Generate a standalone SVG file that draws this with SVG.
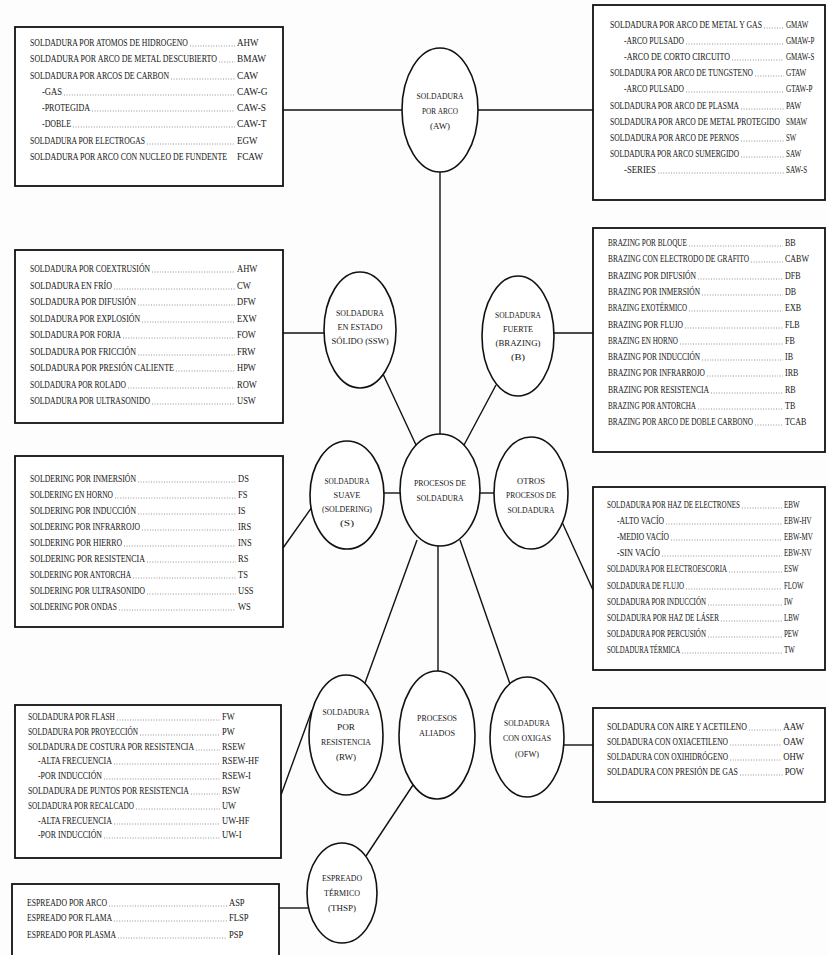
<svg xmlns="http://www.w3.org/2000/svg" width="828" height="955" viewBox="0 0 828 955">
<style>
.t{font-family:"Liberation Serif","Times New Roman",serif;font-size:10px;fill:#161616}
.e{font-family:"Liberation Serif","Times New Roman",serif;font-size:9px;fill:#161616;text-anchor:middle}
.box{fill:#fff;stroke:#111;stroke-width:1.8}
.ell{fill:#fff;stroke:#111;stroke-width:1.6}
.ln{stroke:#111;stroke-width:1.4;fill:none}
.ld{stroke:#777;stroke-width:0.8;stroke-dasharray:1 1.6}
.r{text-anchor:end}
</style>
<rect x="0" y="0" width="828" height="955" fill="#fdfdfd"/>

<g id="connectors">
<line class="ln" x1="283" y1="110" x2="402" y2="110"/>
<line class="ln" x1="478" y1="110" x2="593" y2="110"/>
<line class="ln" x1="440" y1="172" x2="440" y2="434"/>
<line class="ln" x1="283" y1="333" x2="324" y2="333"/>
<line class="ln" x1="554" y1="333" x2="593" y2="333"/>
<line class="ln" x1="383" y1="374" x2="416" y2="445"/>
<line class="ln" x1="496" y1="385" x2="464" y2="445"/>
<line class="ln" x1="384" y1="493" x2="400" y2="493"/>
<line class="ln" x1="480" y1="493" x2="494" y2="493"/>
<line class="ln" x1="283" y1="548" x2="312" y2="507"/>
<line class="ln" x1="562" y1="522" x2="593" y2="590"/>
<line class="ln" x1="438" y1="546" x2="438" y2="671"/>
<line class="ln" x1="417" y1="540" x2="365" y2="683"/>
<line class="ln" x1="460" y1="540" x2="510" y2="684"/>
<line class="ln" x1="281" y1="795" x2="312" y2="710"/>
<line class="ln" x1="564" y1="745" x2="593" y2="745"/>
<line class="ln" x1="413" y1="785" x2="366" y2="856"/>
<line class="ln" x1="279" y1="908" x2="308" y2="908"/>
</g>

<g id="node-aw">
<ellipse class="ell" cx="440" cy="110" rx="38" ry="62"/>
<text class="e" x="440" y="99" textLength="47" lengthAdjust="spacingAndGlyphs">SOLDADURA</text>
<text class="e" x="440" y="114" textLength="36" lengthAdjust="spacingAndGlyphs">POR ARCO</text>
<text class="e" x="440" y="129" textLength="20" lengthAdjust="spacingAndGlyphs">(AW)</text>
</g>
<g id="node-ssw">
<ellipse class="ell" cx="360" cy="330" rx="36" ry="58"/>
<text class="e" x="360" y="316" textLength="48" lengthAdjust="spacingAndGlyphs">SOLDADURA</text>
<text class="e" x="360" y="330" textLength="45" lengthAdjust="spacingAndGlyphs">EN ESTADO</text>
<text class="e" x="360" y="344" textLength="57" lengthAdjust="spacingAndGlyphs">SÓLIDO (SSW)</text>
</g>
<g id="node-brazing">
<ellipse class="ell" cx="518" cy="336" rx="36" ry="60"/>
<text class="e" x="518" y="318" textLength="46" lengthAdjust="spacingAndGlyphs">SOLDADURA</text>
<text class="e" x="518" y="332" textLength="30" lengthAdjust="spacingAndGlyphs">FUERTE</text>
<text class="e" x="518" y="346" textLength="45" lengthAdjust="spacingAndGlyphs">(BRAZING)</text>
<text class="e" x="518" y="360" textLength="14" lengthAdjust="spacingAndGlyphs">(B)</text>
</g>
<g id="node-procesos">
<ellipse class="ell" cx="440" cy="490" rx="40" ry="56"/>
<text class="e" x="440" y="486" textLength="52" lengthAdjust="spacingAndGlyphs">PROCESOS DE</text>
<text class="e" x="440" y="501" textLength="47" lengthAdjust="spacingAndGlyphs">SOLDADURA</text>
</g>
<g id="node-suave">
<ellipse class="ell" cx="347" cy="495" rx="37" ry="54"/>
<text class="e" x="347" y="484" textLength="45" lengthAdjust="spacingAndGlyphs">SOLDADURA</text>
<text class="e" x="347" y="498" textLength="27" lengthAdjust="spacingAndGlyphs">SUAVE</text>
<text class="e" x="347" y="512" textLength="50" lengthAdjust="spacingAndGlyphs">(SOLDERING)</text>
<text class="e" x="347" y="526" textLength="14" lengthAdjust="spacingAndGlyphs">(S)</text>
</g>
<g id="node-otros">
<ellipse class="ell" cx="531" cy="493" rx="37" ry="56"/>
<text class="e" x="531" y="484" textLength="28" lengthAdjust="spacingAndGlyphs">OTROS</text>
<text class="e" x="531" y="498" textLength="50" lengthAdjust="spacingAndGlyphs">PROCESOS DE</text>
<text class="e" x="531" y="513" textLength="47" lengthAdjust="spacingAndGlyphs">SOLDADURA</text>
</g>
<g id="node-resistencia">
<ellipse class="ell" cx="346" cy="735" rx="37" ry="60"/>
<text class="e" x="346" y="715" textLength="47" lengthAdjust="spacingAndGlyphs">SOLDADURA</text>
<text class="e" x="346" y="730" textLength="18" lengthAdjust="spacingAndGlyphs">POR</text>
<text class="e" x="346" y="745" textLength="50" lengthAdjust="spacingAndGlyphs">RESISTENCIA</text>
<text class="e" x="346" y="760" textLength="20" lengthAdjust="spacingAndGlyphs">(RW)</text>
</g>
<g id="node-aliados">
<ellipse class="ell" cx="437" cy="735" rx="38" ry="64"/>
<text class="e" x="437" y="721" textLength="40" lengthAdjust="spacingAndGlyphs">PROCESOS</text>
<text class="e" x="437" y="736" textLength="36" lengthAdjust="spacingAndGlyphs">ALIADOS</text>
</g>
<g id="node-oxigas">
<ellipse class="ell" cx="527" cy="737" rx="37" ry="60"/>
<text class="e" x="527" y="726" textLength="46" lengthAdjust="spacingAndGlyphs">SOLDADURA</text>
<text class="e" x="527" y="741" textLength="48" lengthAdjust="spacingAndGlyphs">CON OXIGAS</text>
<text class="e" x="527" y="757" textLength="24" lengthAdjust="spacingAndGlyphs">(OFW)</text>
</g>
<g id="node-espreado">
<ellipse class="ell" cx="342" cy="893" rx="35" ry="50"/>
<text class="e" x="342" y="881" textLength="40" lengthAdjust="spacingAndGlyphs">ESPREADO</text>
<text class="e" x="342" y="896" textLength="36" lengthAdjust="spacingAndGlyphs">TÉRMICO</text>
<text class="e" x="342" y="911" textLength="28" lengthAdjust="spacingAndGlyphs">(THSP)</text>
</g>

<g id="box-aw-left">
<rect class="box" x="15" y="27" width="268" height="159"/>
<text class="t" transform="translate(30,46) scale(.72,1)" textLength="219.4" lengthAdjust="spacingAndGlyphs">SOLDADURA POR ATOMOS DE HIDROGENO</text><line class="ld" x1="190" y1="46" x2="235" y2="46"/><text class="t" transform="translate(237,46) scale(.8,1)" textLength="26.9" lengthAdjust="spacingAndGlyphs">AHW</text>
<text class="t" transform="translate(30,62) scale(.72,1)" textLength="259.7" lengthAdjust="spacingAndGlyphs">SOLDADURA POR ARCO DE METAL DESCUBIERTO</text><line class="ld" x1="219" y1="62" x2="235" y2="62"/><text class="t" transform="translate(237,62) scale(.8,1)" textLength="36.3" lengthAdjust="spacingAndGlyphs">BMAW</text>
<text class="t" transform="translate(30,79) scale(.72,1)" textLength="193.1" lengthAdjust="spacingAndGlyphs">SOLDADURA POR ARCOS DE CARBON</text><line class="ld" x1="171" y1="79" x2="235" y2="79"/><text class="t" transform="translate(237,79) scale(.8,1)" textLength="26.3" lengthAdjust="spacingAndGlyphs">CAW</text>
<text class="t" transform="translate(42,95) scale(.72,1)" textLength="27.8" lengthAdjust="spacingAndGlyphs">-GAS</text><line class="ld" x1="64" y1="95" x2="235" y2="95"/><text class="t" transform="translate(237,95) scale(.8,1)" textLength="38.1" lengthAdjust="spacingAndGlyphs">CAW-G</text>
<text class="t" transform="translate(42,111) scale(.72,1)" textLength="66.7" lengthAdjust="spacingAndGlyphs">-PROTEGIDA</text><line class="ld" x1="92" y1="111" x2="235" y2="111"/><text class="t" transform="translate(237,111) scale(.8,1)" textLength="36.3" lengthAdjust="spacingAndGlyphs">CAW-S</text>
<text class="t" transform="translate(42,127) scale(.72,1)" textLength="40.3" lengthAdjust="spacingAndGlyphs">-DOBLE</text><line class="ld" x1="73" y1="127" x2="235" y2="127"/><text class="t" transform="translate(237,127) scale(.8,1)" textLength="36.9" lengthAdjust="spacingAndGlyphs">CAW-T</text>
<text class="t" transform="translate(30,144) scale(.72,1)" textLength="159.7" lengthAdjust="spacingAndGlyphs">SOLDADURA POR ELECTROGAS</text><line class="ld" x1="147" y1="144" x2="235" y2="144"/><text class="t" transform="translate(237,144) scale(.8,1)" textLength="25.6" lengthAdjust="spacingAndGlyphs">EGW</text>
<text class="t" transform="translate(30,160) scale(.72,1)" textLength="273.6" lengthAdjust="spacingAndGlyphs">SOLDADURA POR ARCO CON NUCLEO DE FUNDENTE</text><text class="t" transform="translate(237,160) scale(.8,1)" textLength="32.5" lengthAdjust="spacingAndGlyphs">FCAW</text>
</g>

<g id="box-aw-right">
<rect class="box" x="593" y="5" width="232" height="195"/>
<text class="t" transform="translate(610,28) scale(.72,1)" textLength="211.1" lengthAdjust="spacingAndGlyphs">SOLDADURA POR ARCO DE METAL Y GAS</text><line class="ld" x1="764" y1="28" x2="784" y2="28"/><text class="t" transform="translate(786,28) scale(.8,1)" textLength="27.9" lengthAdjust="spacingAndGlyphs">GMAW</text>
<text class="t" transform="translate(624,44) scale(.72,1)" textLength="83.3" lengthAdjust="spacingAndGlyphs">-ARCO PULSADO</text><line class="ld" x1="686" y1="44" x2="784" y2="44"/><text class="t" transform="translate(786,44) scale(.8,1)" textLength="35.4" lengthAdjust="spacingAndGlyphs">GMAW-P</text>
<text class="t" transform="translate(624,60) scale(.72,1)" textLength="147.2" lengthAdjust="spacingAndGlyphs">-ARCO DE CORTO CIRCUITO</text><line class="ld" x1="732" y1="60" x2="784" y2="60"/><text class="t" transform="translate(786,60) scale(.8,1)" textLength="35.4" lengthAdjust="spacingAndGlyphs">GMAW-S</text>
<text class="t" transform="translate(610,76) scale(.72,1)" textLength="198.6" lengthAdjust="spacingAndGlyphs">SOLDADURA POR ARCO DE TUNGSTENO</text><line class="ld" x1="755" y1="76" x2="784" y2="76"/><text class="t" transform="translate(786,76) scale(.8,1)" textLength="25.5" lengthAdjust="spacingAndGlyphs">GTAW</text>
<text class="t" transform="translate(624,92) scale(.72,1)" textLength="83.3" lengthAdjust="spacingAndGlyphs">-ARCO PULSADO</text><line class="ld" x1="686" y1="92" x2="784" y2="92"/><text class="t" transform="translate(786,92) scale(.8,1)" textLength="33" lengthAdjust="spacingAndGlyphs">GTAW-P</text>
<text class="t" transform="translate(610,109) scale(.72,1)" textLength="179.2" lengthAdjust="spacingAndGlyphs">SOLDADURA POR ARCO DE PLASMA</text><line class="ld" x1="741" y1="109" x2="784" y2="109"/><text class="t" transform="translate(786,109) scale(.8,1)" textLength="18.9" lengthAdjust="spacingAndGlyphs">PAW</text>
<text class="t" transform="translate(610,125) scale(.72,1)" textLength="236.1" lengthAdjust="spacingAndGlyphs">SOLDADURA POR ARCO DE METAL PROTEGIDO</text><text class="t" transform="translate(786,125) scale(.8,1)" textLength="26.5" lengthAdjust="spacingAndGlyphs">SMAW</text>
<text class="t" transform="translate(610,141) scale(.72,1)" textLength="179.2" lengthAdjust="spacingAndGlyphs">SOLDADURA POR ARCO DE PERNOS</text><line class="ld" x1="741" y1="141" x2="784" y2="141"/><text class="t" transform="translate(786,141) scale(.8,1)" textLength="12.8" lengthAdjust="spacingAndGlyphs">SW</text>
<text class="t" transform="translate(610,157) scale(.72,1)" textLength="179.2" lengthAdjust="spacingAndGlyphs">SOLDADURA POR ARCO SUMERGIDO</text><line class="ld" x1="741" y1="157" x2="784" y2="157"/><text class="t" transform="translate(786,157) scale(.8,1)" textLength="18.9" lengthAdjust="spacingAndGlyphs">SAW</text>
<text class="t" transform="translate(624,173) scale(.72,1)" textLength="44.4" lengthAdjust="spacingAndGlyphs">-SERIES</text><line class="ld" x1="658" y1="173" x2="784" y2="173"/><text class="t" transform="translate(786,173) scale(.8,1)" textLength="26.5" lengthAdjust="spacingAndGlyphs">SAW-S</text>
</g>

<g id="box-ssw">
<rect class="box" x="15" y="250" width="268" height="173"/>
<text class="t" transform="translate(30,272) scale(.72,1)" textLength="166.7" lengthAdjust="spacingAndGlyphs">SOLDADURA POR COEXTRUSIÓN</text><line class="ld" x1="152" y1="272" x2="235" y2="272"/><text class="t" transform="translate(237,272) scale(.8,1)" textLength="25.4" lengthAdjust="spacingAndGlyphs">AHW</text>
<text class="t" transform="translate(30,289) scale(.72,1)" textLength="113.9" lengthAdjust="spacingAndGlyphs">SOLDADURA EN FRÍO</text><line class="ld" x1="114" y1="289" x2="235" y2="289"/><text class="t" transform="translate(237,289) scale(.8,1)" textLength="17.1" lengthAdjust="spacingAndGlyphs">CW</text>
<text class="t" transform="translate(30,305) scale(.72,1)" textLength="147.2" lengthAdjust="spacingAndGlyphs">SOLDADURA POR DIFUSIÓN</text><line class="ld" x1="138" y1="305" x2="235" y2="305"/><text class="t" transform="translate(237,305) scale(.8,1)" textLength="23.6" lengthAdjust="spacingAndGlyphs">DFW</text>
<text class="t" transform="translate(30,322) scale(.72,1)" textLength="152.8" lengthAdjust="spacingAndGlyphs">SOLDADURA POR EXPLOSIÓN</text><line class="ld" x1="142" y1="322" x2="235" y2="322"/><text class="t" transform="translate(237,322) scale(.8,1)" textLength="24.3" lengthAdjust="spacingAndGlyphs">EXW</text>
<text class="t" transform="translate(30,338) scale(.72,1)" textLength="126.4" lengthAdjust="spacingAndGlyphs">SOLDADURA POR FORJA</text><line class="ld" x1="123" y1="338" x2="235" y2="338"/><text class="t" transform="translate(237,338) scale(.8,1)" textLength="23.6" lengthAdjust="spacingAndGlyphs">FOW</text>
<text class="t" transform="translate(30,355) scale(.72,1)" textLength="147.2" lengthAdjust="spacingAndGlyphs">SOLDADURA POR FRICCIÓN</text><line class="ld" x1="138" y1="355" x2="235" y2="355"/><text class="t" transform="translate(237,355) scale(.8,1)" textLength="23" lengthAdjust="spacingAndGlyphs">FRW</text>
<text class="t" transform="translate(30,371) scale(.72,1)" textLength="200" lengthAdjust="spacingAndGlyphs">SOLDADURA POR PRESIÓN CALIENTE</text><line class="ld" x1="176" y1="371" x2="235" y2="371"/><text class="t" transform="translate(237,371) scale(.8,1)" textLength="23.6" lengthAdjust="spacingAndGlyphs">HPW</text>
<text class="t" transform="translate(30,388) scale(.72,1)" textLength="133.3" lengthAdjust="spacingAndGlyphs">SOLDADURA POR ROLADO</text><line class="ld" x1="128" y1="388" x2="235" y2="388"/><text class="t" transform="translate(237,388) scale(.8,1)" textLength="24.8" lengthAdjust="spacingAndGlyphs">ROW</text>
<text class="t" transform="translate(30,404) scale(.72,1)" textLength="166.7" lengthAdjust="spacingAndGlyphs">SOLDADURA POR ULTRASONIDO</text><line class="ld" x1="152" y1="404" x2="235" y2="404"/><text class="t" transform="translate(237,404) scale(.8,1)" textLength="23.6" lengthAdjust="spacingAndGlyphs">USW</text>
</g>

<g id="box-brazing">
<rect class="box" x="593" y="228" width="232" height="224"/>
<text class="t" transform="translate(608,246) scale(.72,1)" textLength="109.7" lengthAdjust="spacingAndGlyphs">BRAZING POR BLOQUE</text><line class="ld" x1="689" y1="246" x2="783" y2="246"/><text class="t" transform="translate(785,246) scale(.8,1)" textLength="13.4" lengthAdjust="spacingAndGlyphs">BB</text>
<text class="t" transform="translate(608,262) scale(.72,1)" textLength="195.8" lengthAdjust="spacingAndGlyphs">BRAZING CON ELECTRODO DE GRAFITO</text><line class="ld" x1="751" y1="262" x2="783" y2="262"/><text class="t" transform="translate(785,262) scale(.8,1)" textLength="30" lengthAdjust="spacingAndGlyphs">CABW</text>
<text class="t" transform="translate(608,279) scale(.72,1)" textLength="122.2" lengthAdjust="spacingAndGlyphs">BRAZING POR DIFUSIÓN</text><line class="ld" x1="698" y1="279" x2="783" y2="279"/><text class="t" transform="translate(785,279) scale(.8,1)" textLength="19.5" lengthAdjust="spacingAndGlyphs">DFB</text>
<text class="t" transform="translate(608,295) scale(.72,1)" textLength="127.8" lengthAdjust="spacingAndGlyphs">BRAZING POR INMERSIÓN</text><line class="ld" x1="702" y1="295" x2="783" y2="295"/><text class="t" transform="translate(785,295) scale(.8,1)" textLength="13.9" lengthAdjust="spacingAndGlyphs">DB</text>
<text class="t" transform="translate(608,311) scale(.72,1)" textLength="109.7" lengthAdjust="spacingAndGlyphs">BRAZING EXOTÉRMICO</text><line class="ld" x1="689" y1="311" x2="783" y2="311"/><text class="t" transform="translate(785,311) scale(.8,1)" textLength="20" lengthAdjust="spacingAndGlyphs">EXB</text>
<text class="t" transform="translate(608,328) scale(.72,1)" textLength="104.2" lengthAdjust="spacingAndGlyphs">BRAZING POR FLUJO</text><line class="ld" x1="685" y1="328" x2="783" y2="328"/><text class="t" transform="translate(785,328) scale(.8,1)" textLength="18.4" lengthAdjust="spacingAndGlyphs">FLB</text>
<text class="t" transform="translate(608,344) scale(.72,1)" textLength="97.2" lengthAdjust="spacingAndGlyphs">BRAZING EN HORNO</text><line class="ld" x1="680" y1="344" x2="783" y2="344"/><text class="t" transform="translate(785,344) scale(.8,1)" textLength="12.3" lengthAdjust="spacingAndGlyphs">FB</text>
<text class="t" transform="translate(608,360) scale(.72,1)" textLength="127.8" lengthAdjust="spacingAndGlyphs">BRAZING POR INDUCCIÓN</text><line class="ld" x1="702" y1="360" x2="783" y2="360"/><text class="t" transform="translate(785,360) scale(.8,1)" textLength="10" lengthAdjust="spacingAndGlyphs">IB</text>
<text class="t" transform="translate(608,376) scale(.72,1)" textLength="134.7" lengthAdjust="spacingAndGlyphs">BRAZING POR INFRARROJO</text><line class="ld" x1="707" y1="376" x2="783" y2="376"/><text class="t" transform="translate(785,376) scale(.8,1)" textLength="16.6" lengthAdjust="spacingAndGlyphs">IRB</text>
<text class="t" transform="translate(608,393) scale(.72,1)" textLength="140.3" lengthAdjust="spacingAndGlyphs">BRAZING POR RESISTENCIA</text><line class="ld" x1="711" y1="393" x2="783" y2="393"/><text class="t" transform="translate(785,393) scale(.8,1)" textLength="13.4" lengthAdjust="spacingAndGlyphs">RB</text>
<text class="t" transform="translate(608,409) scale(.72,1)" textLength="122.2" lengthAdjust="spacingAndGlyphs">BRAZING POR ANTORCHA</text><line class="ld" x1="698" y1="409" x2="783" y2="409"/><text class="t" transform="translate(785,409) scale(.8,1)" textLength="12.8" lengthAdjust="spacingAndGlyphs">TB</text>
<text class="t" transform="translate(608,425) scale(.72,1)" textLength="201.4" lengthAdjust="spacingAndGlyphs">BRAZING POR ARCO DE DOBLE CARBONO</text><line class="ld" x1="755" y1="425" x2="783" y2="425"/><text class="t" transform="translate(785,425) scale(.8,1)" textLength="26.6" lengthAdjust="spacingAndGlyphs">TCAB</text>
</g>

<g id="box-soldering">
<rect class="box" x="15" y="456" width="268" height="171"/>
<text class="t" transform="translate(30,482) scale(.72,1)" textLength="147.2" lengthAdjust="spacingAndGlyphs">SOLDERING POR INMERSIÓN</text><line class="ld" x1="138" y1="482" x2="236" y2="482"/><text class="t" transform="translate(238,482) scale(.8,1)" textLength="13.6" lengthAdjust="spacingAndGlyphs">DS</text>
<text class="t" transform="translate(30,498) scale(.72,1)" textLength="115.3" lengthAdjust="spacingAndGlyphs">SOLDERING EN HORNO</text><line class="ld" x1="115" y1="498" x2="236" y2="498"/><text class="t" transform="translate(238,498) scale(.8,1)" textLength="11.9" lengthAdjust="spacingAndGlyphs">FS</text>
<text class="t" transform="translate(30,514) scale(.72,1)" textLength="147.2" lengthAdjust="spacingAndGlyphs">SOLDERING POR INDUCCIÓN</text><line class="ld" x1="138" y1="514" x2="236" y2="514"/><text class="t" transform="translate(238,514) scale(.8,1)" textLength="9.5" lengthAdjust="spacingAndGlyphs">IS</text>
<text class="t" transform="translate(30,530) scale(.72,1)" textLength="152.8" lengthAdjust="spacingAndGlyphs">SOLDERING POR INFRARROJO</text><line class="ld" x1="142" y1="530" x2="236" y2="530"/><text class="t" transform="translate(238,530) scale(.8,1)" textLength="16.5" lengthAdjust="spacingAndGlyphs">IRS</text>
<text class="t" transform="translate(30,546) scale(.72,1)" textLength="127.8" lengthAdjust="spacingAndGlyphs">SOLDERING POR HIERRO</text><line class="ld" x1="124" y1="546" x2="236" y2="546"/><text class="t" transform="translate(238,546) scale(.8,1)" textLength="17.1" lengthAdjust="spacingAndGlyphs">INS</text>
<text class="t" transform="translate(30,562) scale(.72,1)" textLength="159.7" lengthAdjust="spacingAndGlyphs">SOLDERING POR RESISTENCIA</text><line class="ld" x1="147" y1="562" x2="236" y2="562"/><text class="t" transform="translate(238,562) scale(.8,1)" textLength="13" lengthAdjust="spacingAndGlyphs">RS</text>
<text class="t" transform="translate(30,578) scale(.72,1)" textLength="140.3" lengthAdjust="spacingAndGlyphs">SOLDERING POR ANTORCHA</text><line class="ld" x1="133" y1="578" x2="236" y2="578"/><text class="t" transform="translate(238,578) scale(.8,1)" textLength="12.4" lengthAdjust="spacingAndGlyphs">TS</text>
<text class="t" transform="translate(30,594) scale(.72,1)" textLength="159.7" lengthAdjust="spacingAndGlyphs">SOLDERING POR ULTRASONIDO</text><line class="ld" x1="147" y1="594" x2="236" y2="594"/><text class="t" transform="translate(238,594) scale(.8,1)" textLength="19.5" lengthAdjust="spacingAndGlyphs">USS</text>
<text class="t" transform="translate(30,610) scale(.72,1)" textLength="120.8" lengthAdjust="spacingAndGlyphs">SOLDERING POR ONDAS</text><line class="ld" x1="119" y1="610" x2="236" y2="610"/><text class="t" transform="translate(238,610) scale(.8,1)" textLength="16" lengthAdjust="spacingAndGlyphs">WS</text>
</g>

<g id="box-otros">
<rect class="box" x="593" y="487" width="232" height="183"/>
<text class="t" transform="translate(607,508) scale(.72,1)" textLength="184.7" lengthAdjust="spacingAndGlyphs">SOLDADURA POR HAZ DE ELECTRONES</text><line class="ld" x1="742" y1="508" x2="782" y2="508"/><text class="t" transform="translate(784,508) scale(.8,1)" textLength="19.6" lengthAdjust="spacingAndGlyphs">EBW</text>
<text class="t" transform="translate(617,524) scale(.72,1)" textLength="65.3" lengthAdjust="spacingAndGlyphs">-ALTO VACÍO</text><line class="ld" x1="666" y1="524" x2="782" y2="524"/><text class="t" transform="translate(784,524) scale(.8,1)" textLength="34.5" lengthAdjust="spacingAndGlyphs">EBW-HV</text>
<text class="t" transform="translate(617,540) scale(.72,1)" textLength="72.2" lengthAdjust="spacingAndGlyphs">-MEDIO VACÍO</text><line class="ld" x1="671" y1="540" x2="782" y2="540"/><text class="t" transform="translate(784,540) scale(.8,1)" textLength="35.9" lengthAdjust="spacingAndGlyphs">EBW-MV</text>
<text class="t" transform="translate(617,556) scale(.72,1)" textLength="59.7" lengthAdjust="spacingAndGlyphs">-SIN VACÍO</text><line class="ld" x1="662" y1="556" x2="782" y2="556"/><text class="t" transform="translate(784,556) scale(.8,1)" textLength="34.5" lengthAdjust="spacingAndGlyphs">EBW-NV</text>
<text class="t" transform="translate(607,572) scale(.72,1)" textLength="166.7" lengthAdjust="spacingAndGlyphs">SOLDADURA POR ELECTROESCORIA</text><line class="ld" x1="729" y1="572" x2="782" y2="572"/><text class="t" transform="translate(784,572) scale(.8,1)" textLength="18.3" lengthAdjust="spacingAndGlyphs">ESW</text>
<text class="t" transform="translate(607,589) scale(.72,1)" textLength="106.9" lengthAdjust="spacingAndGlyphs">SOLDADURA DE FLUJO</text><line class="ld" x1="686" y1="589" x2="782" y2="589"/><text class="t" transform="translate(784,589) scale(.8,1)" textLength="24.4" lengthAdjust="spacingAndGlyphs">FLOW</text>
<text class="t" transform="translate(607,605) scale(.72,1)" textLength="137.5" lengthAdjust="spacingAndGlyphs">SOLDADURA POR INDUCCIÓN</text><line class="ld" x1="708" y1="605" x2="782" y2="605"/><text class="t" transform="translate(784,605) scale(.8,1)" textLength="11" lengthAdjust="spacingAndGlyphs">IW</text>
<text class="t" transform="translate(607,621) scale(.72,1)" textLength="155.6" lengthAdjust="spacingAndGlyphs">SOLDADURA POR HAZ DE LÁSER</text><line class="ld" x1="721" y1="621" x2="782" y2="621"/><text class="t" transform="translate(784,621) scale(.8,1)" textLength="19.1" lengthAdjust="spacingAndGlyphs">LBW</text>
<text class="t" transform="translate(607,637) scale(.72,1)" textLength="137.5" lengthAdjust="spacingAndGlyphs">SOLDADURA POR PERCUSIÓN</text><line class="ld" x1="708" y1="637" x2="782" y2="637"/><text class="t" transform="translate(784,637) scale(.8,1)" textLength="18.3" lengthAdjust="spacingAndGlyphs">PEW</text>
<text class="t" transform="translate(607,653) scale(.72,1)" textLength="101.4" lengthAdjust="spacingAndGlyphs">SOLDADURA TÉRMICA</text><line class="ld" x1="682" y1="653" x2="782" y2="653"/><text class="t" transform="translate(784,653) scale(.8,1)" textLength="13.4" lengthAdjust="spacingAndGlyphs">TW</text>
</g>

<g id="box-resistencia">
<rect class="box" x="15" y="705" width="266" height="153"/>
<text class="t" transform="translate(28,720) scale(.72,1)" textLength="120.8" lengthAdjust="spacingAndGlyphs">SOLDADURA POR FLASH</text><line class="ld" x1="117" y1="720" x2="220" y2="720"/><text class="t" transform="translate(222,720) scale(.8,1)" textLength="15.8" lengthAdjust="spacingAndGlyphs">FW</text>
<text class="t" transform="translate(28,735) scale(.72,1)" textLength="152.8" lengthAdjust="spacingAndGlyphs">SOLDADURA POR PROYECCIÓN</text><line class="ld" x1="140" y1="735" x2="220" y2="735"/><text class="t" transform="translate(222,735) scale(.8,1)" textLength="15.8" lengthAdjust="spacingAndGlyphs">PW</text>
<text class="t" transform="translate(28,750) scale(.72,1)" textLength="230.6" lengthAdjust="spacingAndGlyphs">SOLDADURA DE COSTURA POR RESISTENCIA</text><line class="ld" x1="196" y1="750" x2="220" y2="750"/><text class="t" transform="translate(222,750) scale(.8,1)" textLength="29.1" lengthAdjust="spacingAndGlyphs">RSEW</text>
<text class="t" transform="translate(38,764) scale(.72,1)" textLength="102.8" lengthAdjust="spacingAndGlyphs">-ALTA FRECUENCIA</text><line class="ld" x1="114" y1="764" x2="220" y2="764"/><text class="t" transform="translate(222,764) scale(.8,1)" textLength="46.1" lengthAdjust="spacingAndGlyphs">RSEW-HF</text>
<text class="t" transform="translate(38,779) scale(.72,1)" textLength="88.9" lengthAdjust="spacingAndGlyphs">-POR INDUCCIÓN</text><line class="ld" x1="104" y1="779" x2="220" y2="779"/><text class="t" transform="translate(222,779) scale(.8,1)" textLength="36.1" lengthAdjust="spacingAndGlyphs">RSEW-I</text>
<text class="t" transform="translate(28,794) scale(.72,1)" textLength="223.6" lengthAdjust="spacingAndGlyphs">SOLDADURA DE PUNTOS POR RESISTENCIA</text><line class="ld" x1="191" y1="794" x2="220" y2="794"/><text class="t" transform="translate(222,794) scale(.8,1)" textLength="22.8" lengthAdjust="spacingAndGlyphs">RSW</text>
<text class="t" transform="translate(28,809) scale(.72,1)" textLength="147.2" lengthAdjust="spacingAndGlyphs">SOLDADURA POR RECALCADO</text><line class="ld" x1="136" y1="809" x2="220" y2="809"/><text class="t" transform="translate(222,809) scale(.8,1)" textLength="17.5" lengthAdjust="spacingAndGlyphs">UW</text>
<text class="t" transform="translate(38,824) scale(.72,1)" textLength="102.8" lengthAdjust="spacingAndGlyphs">-ALTA FRECUENCIA</text><line class="ld" x1="114" y1="824" x2="220" y2="824"/><text class="t" transform="translate(222,824) scale(.8,1)" textLength="34.4" lengthAdjust="spacingAndGlyphs">UW-HF</text>
<text class="t" transform="translate(38,838) scale(.72,1)" textLength="88.9" lengthAdjust="spacingAndGlyphs">-POR INDUCCIÓN</text><line class="ld" x1="104" y1="838" x2="220" y2="838"/><text class="t" transform="translate(222,838) scale(.8,1)" textLength="24.5" lengthAdjust="spacingAndGlyphs">UW-I</text>
</g>

<g id="box-oxigas">
<rect class="box" x="593" y="708" width="232" height="94"/>
<text class="t" transform="translate(607,730) scale(.72,1)" textLength="194.4" lengthAdjust="spacingAndGlyphs">SOLDADURA CON AIRE Y ACETILENO</text><line class="ld" x1="749" y1="730" x2="781" y2="730"/><text class="t r" transform="translate(804,730) scale(.8,1)" textLength="26" lengthAdjust="spacingAndGlyphs">AAW</text>
<text class="t" transform="translate(607,745) scale(.72,1)" textLength="168.1" lengthAdjust="spacingAndGlyphs">SOLDADURA CON OXIACETILENO</text><line class="ld" x1="730" y1="745" x2="781" y2="745"/><text class="t r" transform="translate(804,745) scale(.8,1)" textLength="26" lengthAdjust="spacingAndGlyphs">OAW</text>
<text class="t" transform="translate(607,760) scale(.72,1)" textLength="168.1" lengthAdjust="spacingAndGlyphs">SOLDADURA CON OXIHIDRÓGENO</text><line class="ld" x1="730" y1="760" x2="781" y2="760"/><text class="t r" transform="translate(804,760) scale(.8,1)" textLength="26" lengthAdjust="spacingAndGlyphs">OHW</text>
<text class="t" transform="translate(607,775) scale(.72,1)" textLength="181.9" lengthAdjust="spacingAndGlyphs">SOLDADURA CON PRESIÓN DE GAS</text><line class="ld" x1="740" y1="775" x2="783" y2="775"/><text class="t r" transform="translate(804,775) scale(.8,1)" textLength="24.1" lengthAdjust="spacingAndGlyphs">POW</text>
</g>

<g id="box-espreado">
<rect class="box" x="12" y="884" width="267" height="80"/>
<text class="t" transform="translate(27,906) scale(.72,1)" textLength="111.1" lengthAdjust="spacingAndGlyphs">ESPREADO POR ARCO</text><line class="ld" x1="109" y1="906" x2="227" y2="906"/><text class="t" transform="translate(229,906) scale(.8,1)" textLength="19.5" lengthAdjust="spacingAndGlyphs">ASP</text>
<text class="t" transform="translate(27,921) scale(.72,1)" textLength="118.1" lengthAdjust="spacingAndGlyphs">ESPREADO POR FLAMA</text><line class="ld" x1="114" y1="921" x2="227" y2="921"/><text class="t" transform="translate(229,921) scale(.8,1)" textLength="24.3" lengthAdjust="spacingAndGlyphs">FLSP</text>
<text class="t" transform="translate(27,938) scale(.72,1)" textLength="123.6" lengthAdjust="spacingAndGlyphs">ESPREADO POR PLASMA</text><line class="ld" x1="118" y1="938" x2="227" y2="938"/><text class="t" transform="translate(229,938) scale(.8,1)" textLength="17.8" lengthAdjust="spacingAndGlyphs">PSP</text>
</g>
</svg>
